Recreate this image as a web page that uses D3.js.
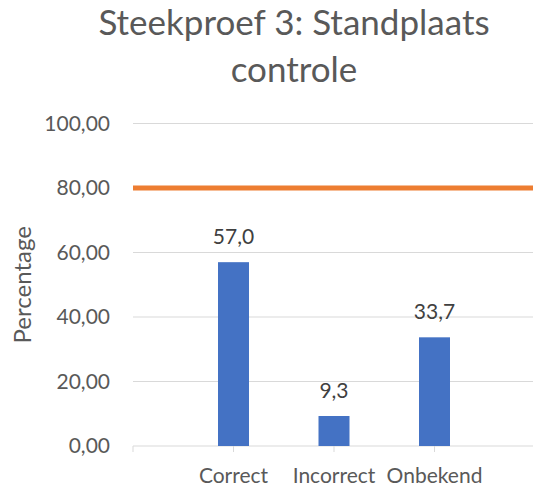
<!DOCTYPE html>
<html>
<head>
<meta charset="utf-8">
<script src="https://cdn.jsdelivr.net/npm/d3@7"></script>
<style>
  body { margin: 0; background: #fff; }
  text { font-family: Lato, "Open Sans", sans-serif; }
</style>
</head>
<body>
<div id="chart"></div>
<script>
// categories: Excel puts them on tick marks, with an empty slot at each end
var categories = ["", "Correct", "Incorrect", "Onbekend", " "];
var barCategories = ["Correct", "Incorrect", "Onbekend"];
var barValues = [57.0, 9.3, 33.7];
var targetValues = [80, 80, 80, 80, 80];
var yTicks = [0, 20, 40, 60, 80, 100];

var width = 533;
var height = 489;
var margin = { top: 123.5, right: -2, bottom: 43, left: 133 };

var svg = d3.select("#chart").append("svg")
    .attr("width", width)
    .attr("height", height);

var x = d3.scalePoint()
    .domain(categories)
    .range([margin.left, width - margin.right]);

var y = d3.scaleLinear()
    .domain([0, 100])
    .range([height - margin.bottom, margin.top]);

var fmt = function(v) { return d3.format(".2f")(v).replace(".", ","); };

// gridlines
svg.append("g")
    .selectAll("line")
    .data(yTicks.slice(1))
    .enter().append("line")
    .attr("x1", margin.left)
    .attr("x2", width)
    .attr("y1", d => y(d))
    .attr("y2", d => y(d))
    .attr("stroke", "#d9d9d9")
    .attr("stroke-width", 1);

// y tick labels
svg.append("g")
    .selectAll("text")
    .data(yTicks)
    .enter().append("text")
    .attr("x", 110)
    .attr("y", d => y(d))
    .attr("dy", "0.35em")
    .attr("text-anchor", "end")
    .attr("font-size", 21)
    .attr("fill", "#595959")
    .text(fmt);

// x axis
svg.append("line")
    .attr("x1", margin.left)
    .attr("x2", width)
    .attr("y1", y(0))
    .attr("y2", y(0))
    .attr("stroke", "#d9d9d9");

svg.append("g")
    .selectAll("line")
    .data(categories.slice(0, 4))
    .enter().append("line")
    .attr("x1", d => x(d))
    .attr("x2", d => x(d))
    .attr("y1", y(0))
    .attr("y2", y(0) + 6)
    .attr("stroke", "#d9d9d9");

// bars
var barWidth = 31;
svg.append("g")
    .selectAll("rect")
    .data(barValues)
    .enter().append("rect")
    .attr("x", (d, i) => x(barCategories[i]) - barWidth / 2)
    .attr("y", d => y(d))
    .attr("width", barWidth)
    .attr("height", d => y(0) - y(d))
    .attr("fill", "#4472c4");

// data labels
svg.append("g")
    .selectAll("text")
    .data(barValues)
    .enter().append("text")
    .attr("x", (d, i) => x(barCategories[i]))
    .attr("y", d => y(d) - 18)
    .attr("text-anchor", "middle")
    .attr("font-size", 21)
    .attr("fill", "#404040")
    .text(d => d3.format(".1f")(d).replace(".", ","));

// target line
var line = d3.line()
    .x((d, i) => x(categories[i]))
    .y(d => y(d));

svg.append("path")
    .datum(targetValues)
    .attr("d", line)
    .attr("fill", "none")
    .attr("stroke", "#ed7d31")
    .attr("stroke-width", 5);

// category labels
svg.append("g")
    .selectAll("text")
    .data(barCategories)
    .enter().append("text")
    .attr("x", d => x(d))
    .attr("y", y(0) + 37)
    .attr("text-anchor", "middle")
    .attr("font-size", 21)
    .attr("fill", "#595959")
    .text(d => d);

// y axis title
svg.append("text")
    .attr("transform", "translate(31," + (y(50)) + ") rotate(-90)")
    .attr("text-anchor", "middle")
    .attr("font-size", 24)
    .attr("fill", "#595959")
    .text("Percentage");

// title
var title = svg.append("text")
    .attr("text-anchor", "middle")
    .attr("font-size", 35)
    .attr("fill", "#595959");
title.append("tspan").attr("x", 294).attr("y", 35).text("Steekproef 3: Standplaats");
title.append("tspan").attr("x", 294).attr("y", 82).text("controle");
</script>
</body>
</html>
